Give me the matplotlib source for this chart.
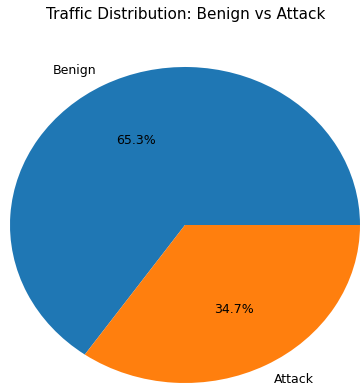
import matplotlib
matplotlib.use('Agg')
import matplotlib.pyplot as plt

labels = ['Benign', 'Attack']
counts = [65.3, 34.7]

fig = plt.figure(figsize=(3.61, 3.87), dpi=100)
# pie drawn squashed, like the reference
ax = fig.add_axes([10 / 361, 4 / 387, 350 / 361, 316 / 387])
ax.pie(counts, labels=labels, autopct='%1.1f%%',
       textprops={'fontsize': 9})
ax.set_aspect('auto')
ax.set_xlim(-1, 1)
ax.set_ylim(-1, 1)
fig.text(186 / 361, 1 - 15 / 387, 'Traffic Distribution: Benign vs Attack',
         ha='center', va='center', fontsize=11)

plt.savefig('out.png', dpi=100)
